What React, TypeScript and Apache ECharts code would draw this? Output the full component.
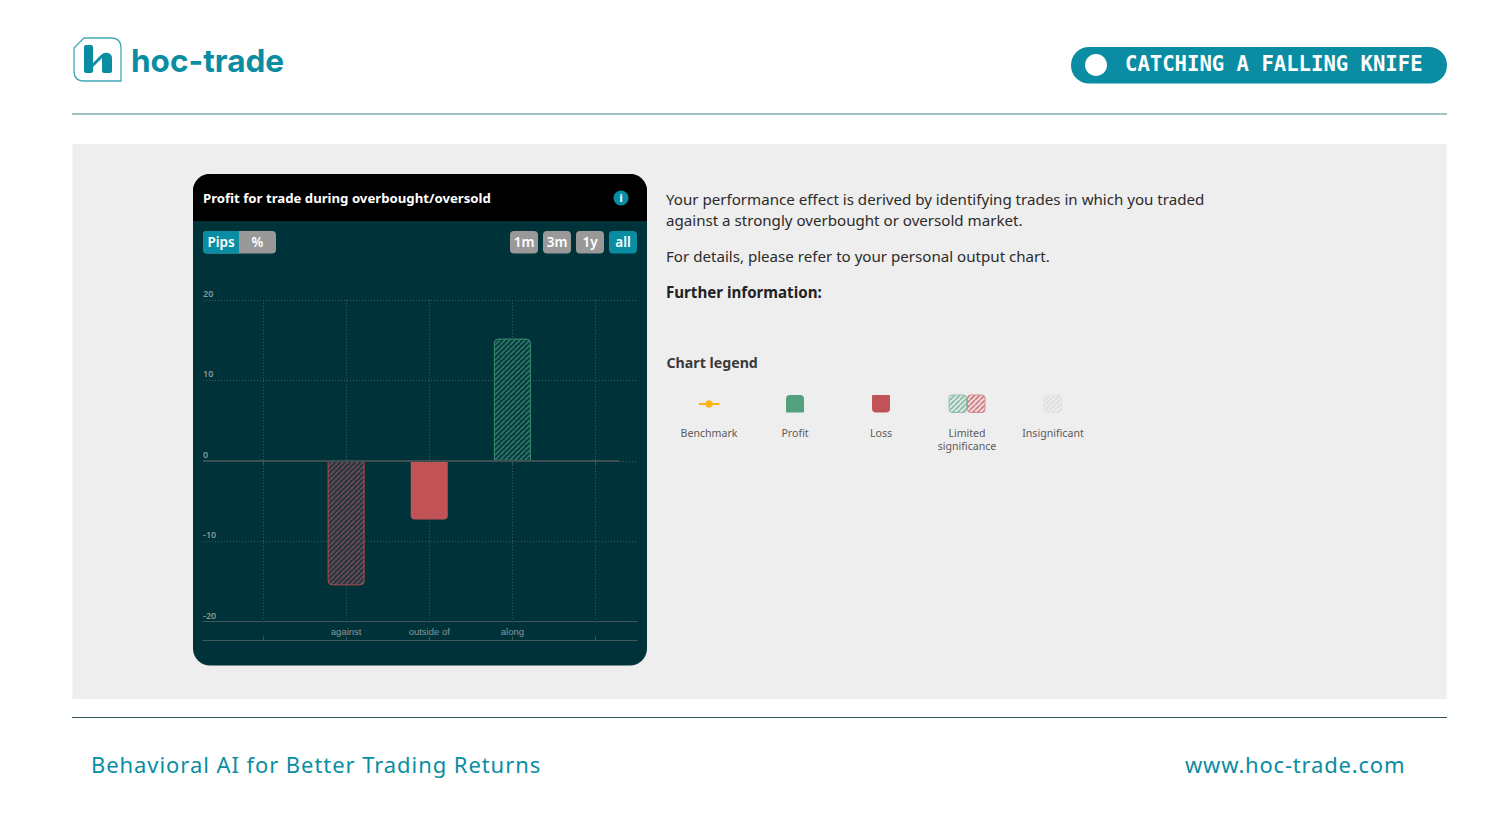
import React, { useEffect, useRef } from "react";
import * as echarts from "echarts";

const categories = ["", "against", "outside of", "along", ""];
const values: (number | null)[] = [null, -15.5, -7.3, 15.2, null];
const significance = ["", "limited", "full", "limited", ""];
const yMin = -20;
const yMax = 20;
const yStep = 10;
const rangeButtons = ["1m", "3m", "1y", "all"];
const bodyLines = [
  "Your performance effect is derived by identifying trades in which you traded",
  "against a strongly overbought or oversold market.",
  "For details, please refer to your personal output chart.",
];
const legendLabels = ["Benchmark", "Profit", "Loss", "Limited\nsignificance", "Insignificant"];

const TEAL = "#0a8da2";
const CARD = "#00323a";
const GREEN = "#53a07c";
const RED = "#c15356";
const SANS = "'Noto Sans', sans-serif";

const LOGO_FRAME = "M84,38 L111,38 Q121,38 121,48 L121,81 L84,81 Q74,81 74,71 L74,48 Z";
const LOGO_MARK =
  "M86,45 L91,45 Q93,45 93,47 L93,63 L101,55 Q104,52 108,53 Q112,54 112,58 L112,71 Q112,73 110,73 L104,73 Q102,73 102,71 L102,58 L93,67 L93,71 Q93,73 91,73 L86,73 Q84,73 84,71 L84,47 Q84,45 86,45 Z";
echarts.graphic.registerShape("logoFrame", echarts.graphic.extendPath(LOGO_FRAME, {}));
echarts.graphic.registerShape("logoMark", echarts.graphic.extendPath(LOGO_MARK, {}));

function hatch(bg: string, line: string, size = 5, width = 1.8) {
  const c = document.createElement("canvas");
  c.width = size;
  c.height = size;
  const g = c.getContext("2d")!;
  g.fillStyle = bg;
  g.fillRect(0, 0, size, size);
  g.strokeStyle = line;
  g.lineWidth = width;
  g.beginPath();
  for (let i = -size; i <= size * 2; i += size) {
    g.moveTo(i, size);
    g.lineTo(i + size, 0);
  }
  g.stroke();
  return { image: c, repeat: "repeat" as const };
}

function txt(text: string, x: number, y: number, size: number, fill: string, weight: any = 400, extra: any = {}) {
  return {
    type: "text",
    z: 5,
    x,
    y,
    style: { text, fontFamily: SANS, fontSize: size, fontWeight: weight, fill, verticalAlign: "middle", align: "left", ...extra },
  };
}
function box(x: number, y: number, w: number, h: number, fill: any, r: any = 0, z = -10, extra: any = {}) {
  return { type: "rect", z, shape: { x, y, width: w, height: h, r }, style: { fill, ...extra } };
}

export default function App() {
  const ref = useRef<HTMLDivElement>(null);
  useEffect(() => {
    document.body.style.margin = "0";
    const chart = echarts.init(ref.current!, undefined, { renderer: "svg" });

    const barData = values.map((v, i) => {
      if (v === null) return { value: null };
      const color = v >= 0 ? GREEN : RED;
      const limited = significance[i] === "limited";
      return {
        value: v,
        itemStyle: {
          color: limited ? (v >= 0 ? hatch("#06383f", "#2f7565") : hatch("#1f3640", "#6d4a53")) : color,
          borderColor: limited ? (v >= 0 ? "#3f8f74" : "#b04a50") : color,
          borderWidth: limited ? 1 : 0,
          borderRadius: v >= 0 ? [4, 4, 0, 0] : [0, 0, 4, 4],
        },
      };
    });

    const swatchY = 395;
    const graphic: any[] = [
      box(72.5, 144, 1374, 555, "#eeeeee"),
      { type: "line", z: -9, shape: { x1: 72, y1: 114, x2: 1447, y2: 114 }, style: { stroke: "#4f8087", lineWidth: 1 } },
      { type: "line", z: -9, shape: { x1: 72, y1: 717.5, x2: 1447, y2: 717.5 }, style: { stroke: "#33525a", lineWidth: 1 } },
      { type: "logoFrame", z: 5, style: { fill: "none", stroke: "#3fa9b9", lineWidth: 1.3 } },
      { type: "logoMark", z: 5, style: { fill: TEAL } },
      txt("hoc-trade", 131, 60, 31.5, TEAL, 700, { fontFamily: "Inter, sans-serif" }),
      box(1071, 47, 376, 36.5, TEAL, 18),
      { type: "circle", z: 5, shape: { cx: 1096, cy: 65, r: 11 }, style: { fill: "#ffffff" } },
      txt("CATCHING A FALLING KNIFE", 1125, 64, 20.6, "#ffffff", 700, { fontFamily: "'DejaVu Sans Mono', monospace" }),
      box(193, 174, 454, 491.5, CARD, 17),
      box(193, 174, 454, 47, "#000000", [17, 17, 0, 0], -9),
      txt("Profit for trade during overbought/oversold", 203, 197.5, 13.2, "#ffffff", 700),
      { type: "circle", z: 5, shape: { cx: 621, cy: 198, r: 7.5 }, style: { fill: TEAL } },
      txt("i", 621, 197.5, 10, "#ffffff", 800, { align: "center" }),
      box(203, 231, 73, 22.5, "#999999", 4, -8),
      box(203, 231, 36, 22.5, TEAL, [4, 0, 0, 4], -7),
      txt("Pips", 221, 241.5, 13.5, "#ffffff", 600, { align: "center" }),
      txt("%", 257.5, 241.5, 13.5, "#ffffff", 600, { align: "center" }),
      ...rangeButtons.flatMap((b, i) => {
        const x = 510 + i * 33;
        return [
          box(x, 231, 28, 22.5, b === "all" ? TEAL : "#999999", 4, -8),
          txt(b, x + 14, 241.5, 13.5, "#ffffff", 600, { align: "center" }),
        ];
      }),
      txt(bodyLines[0], 666, 199, 15.12, "#2b2b2b"),
      txt(bodyLines[1], 666, 220, 15.12, "#2b2b2b"),
      txt(bodyLines[2], 666, 256, 15.12, "#2b2b2b"),
      txt("Further information:", 666, 291.5, 15.12, "#222222", 700),
      txt("Chart legend", 666.5, 362, 14.2, "#3a3a3a", 700),
      { type: "line", z: 5, shape: { x1: 699, y1: 404, x2: 719.5, y2: 404 }, style: { stroke: "#fdb515", lineWidth: 2 } },
      { type: "circle", z: 6, shape: { cx: 709, cy: 404, r: 3.8 }, style: { fill: "#fdb515" } },
      box(786, swatchY, 18, 17.5, GREEN, [4, 4, 1, 1], 5),
      box(872, swatchY, 18, 17.5, RED, [1, 1, 4, 4], 5),
      box(949, swatchY, 17.5, 17.5, hatch("#dfeae5", "#8dbba8"), 3, 5, { stroke: "#8fbfab", lineWidth: 1 }),
      box(967.5, swatchY, 17.5, 17.5, hatch("#efdfdf", "#cf7f81"), 3, 5, { stroke: "#d28a8c", lineWidth: 1 }),
      box(1044, swatchY, 17.5, 17.5, hatch("#eeeeee", "#dedede"), 3, 5, { stroke: "#e2e2e2", lineWidth: 1 }),
      ...legendLabels.map((l, i) => {
        const xs = [709, 795, 881, 967, 1053];
        return {
          type: "text",
          z: 5,
          x: xs[i],
          y: 426,
          style: { text: l, fontFamily: SANS, fontSize: 10.6, fill: "#5a5a5a", align: "center", verticalAlign: "top", lineHeight: 13 },
        };
      }),
      txt("Behavioral AI for Better Trading Returns", 91, 764, 22, TEAL, 400),
      txt("www.hoc-trade.com", 1185, 764, 22, TEAL, 400),
    ];

    const dotted = { color: "#3f585c", width: 1, type: [1, 2] as number[] };
    const axisGrey = { color: "#43565a", width: 1 };

    chart.setOption({
      animation: false,
      tooltip: { show: false },
      graphic: { elements: graphic },
      grid: [
        { left: 263, width: 332.5, top: 300, height: 321.5, containLabel: false },
        { left: 203, width: 434, top: 300, height: 321.5, containLabel: false },
      ],
      xAxis: [
        {
          gridIndex: 0,
          type: "category",
          data: categories,
          boundaryGap: false,
          axisLine: { show: false },
          axisTick: { show: true, length: 4, lineStyle: axisGrey },
          axisLabel: { interval: 0, margin: 5, fontFamily: "'Liberation Sans', sans-serif", fontSize: 9.5, color: "#87989b" },
          splitLine: { show: true, lineStyle: dotted },
        },
        {
          gridIndex: 0,
          type: "category",
          data: categories,
          boundaryGap: false,
          position: "bottom",
          offset: 19,
          axisLine: { show: false },
          axisTick: { show: true, inside: true, length: 4, lineStyle: axisGrey },
          axisLabel: { show: false },
          splitLine: { show: false },
        },
        {
          gridIndex: 1,
          type: "value",
          min: 0,
          max: 1,
          axisLine: { show: true, onZero: false, lineStyle: axisGrey },
          axisTick: { show: false },
          axisLabel: { show: false },
          splitLine: { show: false },
        },
        {
          gridIndex: 1,
          type: "value",
          min: 0,
          max: 1,
          position: "bottom",
          offset: 19,
          axisLine: { show: true, onZero: false, lineStyle: axisGrey },
          axisTick: { show: false },
          axisLabel: { show: false },
          splitLine: { show: false },
        },
      ],
      yAxis: [
        {
          gridIndex: 0,
          type: "value",
          min: yMin,
          max: yMax,
          interval: yStep,
          axisLine: { show: false },
          axisTick: { show: false },
          axisLabel: { show: false },
          splitLine: { show: false },
        },
        {
          gridIndex: 1,
          type: "value",
          min: yMin,
          max: yMax,
          interval: yStep,
          axisLine: { show: false },
          axisTick: { show: false },
          axisLabel: {
            inside: true,
            margin: 0,
            verticalAlign: "bottom",
            padding: [0, 0, 2, 0],
            fontFamily: SANS,
            fontWeight: 600,
            fontSize: 9,
            color: "#87989b",
          },
          splitLine: { show: true, lineStyle: dotted },
        },
      ],
      series: [
        {
          type: "line",
          xAxisIndex: 2,
          yAxisIndex: 1,
          data: [],
          markLine: {
            silent: true,
            symbol: "none",
            label: { show: false },
            lineStyle: { color: "#3e4f52", width: 2, type: "solid" },
            data: [[{ coord: [0, 0] }, { coord: [0.959, 0] }]],
          },
        },
        {
          type: "bar",
          xAxisIndex: 0,
          yAxisIndex: 0,
          barWidth: 37,
          data: barData,
          z: 3,
        },
      ],
    });

    ref.current!.querySelectorAll("text").forEach((t) => {
      const s = t.textContent || "";
      if (s.startsWith("Behavioral")) t.style.letterSpacing = "0.93px";
      if (s.startsWith("www.")) t.style.letterSpacing = "0.8px";
    });

    return () => chart.dispose();
  }, []);
  return <div ref={ref} style={{ position: "fixed", left: 0, top: 0, width: 1488, height: 837, background: "#fff" }} />;
}
